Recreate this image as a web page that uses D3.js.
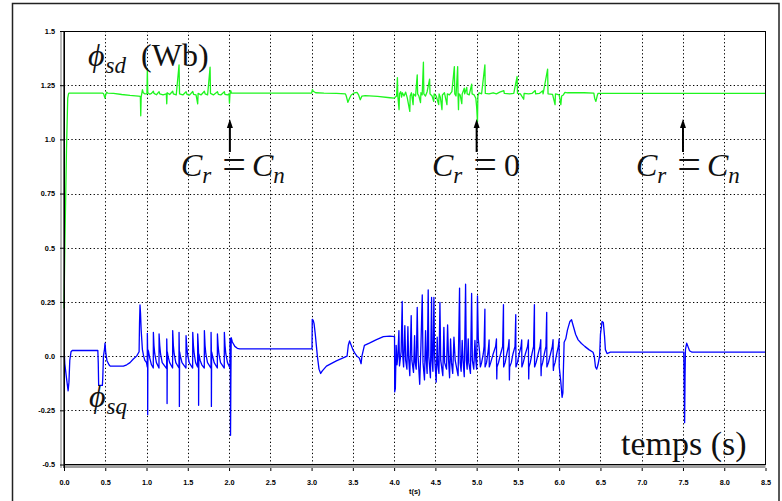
<!DOCTYPE html>
<html><head><meta charset="utf-8">
<script src="https://cdn.jsdelivr.net/npm/d3@7"></script>
<style>html,body{margin:0;padding:0;background:#fff;} svg{display:block;}</style>
</head><body>
<svg id="c" width="782" height="501"></svg>
<script>
// ---------- tick labels ----------
const xTicks = [0,0.5,1,1.5,2,2.5,3,3.5,4,4.5,5,5.5,6,6.5,7,7.5,8,8.5];
const yTicks = [-0.5,-0.25,0,0.25,0.5,0.75,1.0,1.25,1.5];
const yTickLabels = ["-0.5","-0.25","0.0","0.25","0.5","0.75","1.0","1.25","1.5"];
const xLabel = "t(s)";

// ---------- phi_sd (green) [t, Wb] ----------
const sdStart = [[0,0.22],[0.01,0.5],[0.03,0.95],[0.045,1.19],[0.055,1.21],[0.06,1.213],[0.47,1.213],[0.48,1.21],[0.497,1.19],[0.505,1.205],[0.517,1.218],[0.53,1.213],[0.6,1.212],[0.7,1.207],[0.8,1.203],[0.9,1.2],[0.925,1.198],[0.93,1.109],[0.935,1.195],[0.95,1.229],[0.96,1.215],[0.98,1.21],[1.005,1.21],[1.01,1.324],[1.015,1.215]];
const sdLoad1 = [[1.04,1.208],[1.06,1.212],[1.083,1.222],[1.09,1.212],[1.12,1.206],[1.152,1.22],[1.16,1.21],[1.2,1.205],[1.24,1.21],[1.245,1.164],[1.25,1.215],[1.28,1.207],[1.317,1.222],[1.325,1.21],[1.36,1.205],[1.394,1.344],[1.4,1.21],[1.44,1.205],[1.479,1.22],[1.49,1.208],[1.52,1.204],[1.56,1.221],[1.57,1.208],[1.6,1.205],[1.62,1.164],[1.625,1.212],[1.66,1.205],[1.701,1.222],[1.71,1.21],[1.74,1.205],[1.77,1.333],[1.775,1.212],[1.81,1.205],[1.859,1.22],[1.87,1.208],[1.9,1.205],[1.943,1.22],[1.95,1.208],[1.98,1.205],[2.0,1.21],[2.005,1.167],[2.01,1.205],[2.02,1.225],[2.03,1.213]];
const sdMid = [[3.0,1.213],[3.01,1.23],[3.02,1.222],[3.05,1.215],[3.15,1.213],[3.3,1.212],[3.41,1.21],[3.42,1.2],[3.44,1.171],[3.46,1.19],[3.48,1.205],[3.52,1.215],[3.55,1.217],[3.57,1.205],[3.59,1.183],[3.61,1.2],[3.65,1.202],[3.8,1.198],[3.95,1.192],[4.0,1.19]];
const sdLoad2 = [[4.03,1.2],[4.04,1.285],[4.045,1.2],[4.06,1.137],[4.065,1.21],[4.08,1.22],[4.09,1.195],[4.1,1.215],[4.12,1.2],[4.14,1.218],[4.16,1.19],[4.19,1.129],[4.195,1.2],[4.21,1.215],[4.23,1.16],[4.235,1.21],[4.26,1.2],[4.28,1.298],[4.285,1.21],[4.3,1.2],[4.32,1.17],[4.325,1.215],[4.34,1.205],[4.355,1.356],[4.36,1.21],[4.38,1.2],[4.4,1.22],[4.43,1.278],[4.435,1.21],[4.46,1.2],[4.48,1.175],[4.485,1.21],[4.51,1.2],[4.54,1.16],[4.545,1.21],[4.56,1.195],[4.58,1.137],[4.585,1.205],[4.61,1.215],[4.64,1.16],[4.645,1.21],[4.67,1.205],[4.7,1.22],[4.73,1.336],[4.735,1.21],[4.75,1.2],[4.77,1.336],[4.775,1.2],[4.78,1.137],[4.785,1.21],[4.8,1.205],[4.82,1.165],[4.825,1.21],[4.85,1.236],[4.855,1.21],[4.88,1.24],[4.885,1.21],[4.91,1.205],[4.94,1.255],[4.945,1.21],[4.97,1.205],[4.99,1.19],[5.0,1.15],[5.01,1.08],[5.015,1.2],[5.03,1.215]];
const sdEnd = [[5.06,1.21],[5.1,1.344],[5.105,1.212],[5.15,1.21],[5.2,1.215],[5.24,1.21],[5.28,1.218],[5.33,1.225],[5.335,1.212],[5.4,1.21],[5.45,1.212],[5.49,1.29],[5.495,1.212],[5.53,1.21],[5.57,1.185],[5.575,1.212],[5.63,1.21],[5.67,1.212],[5.71,1.225],[5.715,1.21],[5.76,1.212],[5.8,1.224],[5.805,1.21],[5.86,1.324],[5.865,1.21],[5.92,1.208],[5.95,1.16],[5.955,1.21],[6.0,1.205],[6.02,1.16],[6.03,1.2],[6.05,1.205],[6.07,1.217],[6.1,1.215],[6.3,1.215],[6.42,1.213],[6.43,1.19],[6.445,1.175],[6.46,1.2],[6.47,1.212],[8.5,1.212]];

// ---------- phi_sq (blue) [t, Wb] ----------
const sqStart = [[0,0.0],[0.005,0.0],[0.01,-0.035],[0.03,-0.1],[0.05,-0.16],[0.06,-0.12],[0.07,-0.02],[0.085,0.02],[0.1,0.026],[0.41,0.026],[0.415,-0.03],[0.42,-0.135],[0.465,-0.135],[0.47,-0.1],[0.478,0.0],[0.49,0.03],[0.497,0.06],[0.505,0.02],[0.52,-0.02],[0.545,-0.04],[0.56,-0.046],[0.72,-0.046],[0.76,-0.04],[0.8,-0.03],[0.84,-0.013],[0.88,0.0],[0.91,0.02],[0.915,0.15],[0.921,0.236],[0.927,0.2],[0.935,0.12],[0.95,0.03],[0.965,0.0],[0.98,-0.02],[1.0,-0.03]];
const sqLoad1 = [[1.009,-0.05],[1.01,0.105],[1.013,0.04],[1.014,-0.27],[1.017,0.03],[1.025,0.02],[1.04,-0.01],[1.06,-0.04],[1.082,-0.055],[1.083,0.11],[1.09,0.05],[1.1,0.01],[1.12,-0.03],[1.151,-0.055],[1.152,0.102],[1.16,0.05],[1.17,0.01],[1.19,-0.03],[1.244,-0.058],[1.245,0.079],[1.248,0.03],[1.249,-0.219],[1.252,0.02],[1.26,0.0],[1.28,-0.03],[1.316,-0.055],[1.317,0.118],[1.325,0.05],[1.335,0.01],[1.355,-0.03],[1.393,-0.055],[1.394,0.11],[1.397,0.04],[1.398,-0.232],[1.401,0.02],[1.41,0.0],[1.43,-0.03],[1.478,-0.055],[1.479,0.095],[1.487,0.045],[1.497,0.01],[1.517,-0.03],[1.559,-0.055],[1.56,0.11],[1.568,0.05],[1.578,0.01],[1.595,-0.03],[1.619,-0.05],[1.62,0.102],[1.627,0.05],[1.63,0.02],[1.631,-0.227],[1.634,0.01],[1.65,-0.02],[1.67,-0.04],[1.7,-0.055],[1.701,0.118],[1.709,0.05],[1.719,0.01],[1.739,-0.03],[1.781,-0.055],[1.782,0.11],[1.785,0.04],[1.786,-0.232],[1.789,0.02],[1.8,0.0],[1.82,-0.03],[1.858,-0.055],[1.859,0.102],[1.867,0.05],[1.877,0.01],[1.897,-0.03],[1.942,-0.055],[1.943,0.11],[1.951,0.05],[1.961,0.01],[1.981,-0.03],[2.011,-0.055],[2.012,0.082],[2.016,0.03],[2.018,-0.365],[2.022,-0.1],[2.026,0.085],[2.04,0.065],[2.07,0.045],[2.1,0.036],[2.13,0.033]];
const sqNoLoad = [[3.005,0.033],[3.008,0.17],[3.02,0.165],[3.03,0.15],[3.045,0.1],[3.07,0.0],[3.09,-0.06],[3.11,-0.08],[3.13,-0.068],[3.18,-0.046],[3.3,-0.022],[3.43,0.0],[3.445,0.05],[3.46,0.07],[3.48,0.05],[3.5,0.03],[3.53,0.01],[3.55,0.0],[3.58,-0.01],[3.6,-0.035],[3.61,0.0],[3.64,0.05],[3.7,0.06],[3.78,0.075],[3.87,0.09],[3.95,0.092],[4.005,0.09]];
const sqLoad2 = [[4.007,-0.165],[4.015,-0.15],[4.025,0.05],[4.035,-0.04],[4.045,0.0],[4.058,0.118],[4.065,-0.045],[4.085,0.02],[4.098,0.252],[4.105,0.0],[4.115,-0.05],[4.13,0.141],[4.14,-0.02],[4.155,-0.06],[4.167,0.136],[4.175,0.0],[4.19,-0.09],[4.207,0.187],[4.215,-0.02],[4.235,-0.075],[4.248,0.095],[4.255,-0.03],[4.268,-0.06],[4.28,0.225],[4.29,0.0],[4.31,-0.13],[4.325,0.05],[4.341,0.282],[4.35,-0.03],[4.368,-0.11],[4.381,0.118],[4.39,-0.02],[4.4,-0.08],[4.413,0.306],[4.42,0.0],[4.44,-0.1],[4.454,0.271],[4.46,-0.02],[4.47,-0.07],[4.482,0.271],[4.49,0.0],[4.51,-0.12],[4.522,0.087],[4.53,-0.04],[4.543,-0.08],[4.555,0.248],[4.565,-0.02],[4.59,-0.09],[4.603,0.133],[4.612,-0.03],[4.635,-0.06],[4.648,0.144],[4.66,-0.02],[4.672,-0.1],[4.684,0.079],[4.695,-0.03],[4.71,-0.08],[4.725,0.087],[4.74,-0.02],[4.775,-0.09],[4.793,0.314],[4.8,-0.03],[4.812,-0.07],[4.825,0.072],[4.835,-0.02],[4.85,-0.095],[4.866,0.332],[4.875,-0.02],[4.885,-0.06],[4.898,0.08],[4.905,-0.03],[4.925,-0.08],[4.939,0.289],[4.948,-0.02],[4.965,-0.06],[4.979,0.072],[4.99,-0.02],[5.0,-0.06],[5.01,0.278],[5.02,0.08],[5.035,0.02]];
const sqLoad3 = [[5.045,-0.05],[5.06,-0.03],[5.08,0.01],[5.09,0.045],[5.1,0.217],[5.102,-0.05],[5.12,-0.03],[5.135,0.01],[5.145,0.045],[5.151,0.075],[5.153,-0.05],[5.17,-0.03],[5.2,0.01],[5.23,0.045],[5.24,0.079],[5.242,-0.05],[5.244,-0.105],[5.247,-0.05],[5.265,-0.03],[5.29,0.01],[5.315,0.045],[5.325,0.237],[5.327,-0.05],[5.345,-0.03],[5.365,0.01],[5.385,0.045],[5.393,0.076],[5.395,-0.05],[5.397,-0.11],[5.4,-0.05],[5.42,-0.03],[5.44,0.01],[5.465,0.045],[5.474,0.191],[5.476,-0.05],[5.495,-0.03],[5.515,0.01],[5.538,0.045],[5.546,0.075],[5.548,-0.05],[5.565,-0.03],[5.59,0.01],[5.617,0.045],[5.627,0.075],[5.629,-0.05],[5.631,-0.105],[5.634,-0.05],[5.65,-0.03],[5.67,0.01],[5.69,0.045],[5.7,0.237],[5.702,-0.05],[5.72,-0.03],[5.745,0.01],[5.768,0.045],[5.777,0.076],[5.779,-0.05],[5.781,-0.09],[5.784,-0.05],[5.8,-0.03],[5.82,0.01],[5.84,0.045],[5.849,0.202],[5.851,-0.05],[5.87,-0.03],[5.895,0.01],[5.917,0.045],[5.926,0.076],[5.928,-0.05],[5.93,-0.066],[5.933,-0.05],[5.95,-0.03],[5.97,0.01],[5.99,0.045],[5.999,0.079],[6.001,-0.05]];
const sqEnd = [[6.02,-0.12],[6.035,-0.19],[6.045,-0.17],[6.05,-0.08],[6.06,0.064],[6.08,0.08],[6.1,0.12],[6.13,0.16],[6.15,0.168],[6.17,0.14],[6.2,0.1],[6.23,0.075],[6.27,0.058],[6.31,0.045],[6.36,0.03],[6.41,0.018],[6.425,0.0],[6.44,-0.05],[6.455,-0.06],[6.47,-0.04],[6.49,0.0],[6.5,0.1],[6.52,0.16],[6.535,0.155],[6.55,0.09],[6.56,0.03],[6.58,0.012],[6.62,0.018],[7.51,0.018],[7.512,-0.05],[7.52,-0.307],[7.525,-0.1],[7.53,0.03],[7.545,0.06],[7.56,0.045],[7.58,0.025],[7.61,0.018],[8.5,0.018]];

// ---------- annotations ----------
const arrowTimes = [2.01, 5.0, 7.5];

const phiSd = [].concat(sdStart, sdLoad1, sdMid, sdLoad2, sdEnd);
const phiSq = [].concat(sqStart, sqLoad1, sqNoLoad, sqLoad2, sqLoad3, sqEnd);

const svg = d3.select("#c");
const x = d3.scaleLinear().domain([0, 8.5]).range([64, 765.5]);
const y = d3.scaleLinear().domain([-0.5, 1.5]).range([464.5, 31]);

// outer frame
svg.append("rect").attr("x",12.5).attr("y",3.5).attr("width",766.5).attr("height",520)
  .attr("fill","none").attr("stroke","#222").attr("stroke-width",1.5);

// grid
const grid = svg.append("g");
grid.selectAll("line.v").data(xTicks.filter(d=>d>0 && d<8.5)).enter().append("line")
  .attr("x1",d=>Math.round(x(d))+0.5).attr("x2",d=>Math.round(x(d))+0.5)
  .attr("y1",y(1.5)).attr("y2",y(-0.5))
  .attr("stroke","#000").attr("stroke-width",1).attr("stroke-dasharray","1.3,2.4");
grid.selectAll("line.h").data(yTicks.filter(d=>d>-0.5 && d<1.5)).enter().append("line")
  .attr("y1",d=>Math.round(y(d))+0.5).attr("y2",d=>Math.round(y(d))+0.5)
  .attr("x1",x(0)).attr("x2",x(8.5))
  .attr("stroke","#000").attr("stroke-width",1).attr("stroke-dasharray","1.3,2.4");

// lines
const line = d3.line().x(d=>x(d[0])).y(d=>y(d[1]));
svg.append("path").datum(phiSq).attr("d",line).attr("fill","none")
  .attr("stroke","#0000ff").attr("stroke-width",1.3).attr("stroke-linejoin","round");
svg.append("path").datum(phiSd).attr("d",line).attr("fill","none")
  .attr("stroke","#1ef51e").attr("stroke-width",1.3).attr("stroke-linejoin","round");

// plot frame
svg.append("line").attr("x1",x(0)).attr("x2",x(8.5)).attr("y1",31.5).attr("y2",31.5).attr("stroke","#000");
svg.append("line").attr("x1",x(8.5)).attr("x2",x(8.5)).attr("y1",31).attr("y2",465).attr("stroke","#000");
svg.append("rect").attr("x",x(0)).attr("y",465).attr("width",x(8.5)-x(0)).attr("height",3).attr("fill","#a0a0a0");
svg.append("line").attr("x1",x(0)).attr("x2",x(8.5)).attr("y1",464.5).attr("y2",464.5).attr("stroke","#000");
svg.append("line").attr("x1",61).attr("x2",61).attr("y1",31).attr("y2",468).attr("stroke","#777").attr("stroke-width",1);
svg.append("line").attr("x1",64.2).attr("x2",64.2).attr("y1",31).attr("y2",468).attr("stroke","#000").attr("stroke-width",1.6);

// axes
const fontAx = "'Liberation Sans', Arial, sans-serif";
const ax = svg.append("g").attr("transform","translate(64,0)")
  .call(d3.axisLeft(y).tickValues(yTicks).tickSize(4).tickPadding(5)
    .tickFormat((d,i)=>yTickLabels[i]));
const bx = svg.append("g").attr("transform","translate(0,468)")
  .call(d3.axisBottom(x).tickValues(xTicks).tickSize(3).tickPadding(9)
    .tickFormat(d3.format(".1f")));
[ax,bx].forEach(g=>{
  g.select(".domain").remove();
  g.selectAll("text").attr("font-family",fontAx).attr("font-weight","bold").attr("font-size",7.3).attr("fill","#000");
  g.selectAll("line").attr("stroke","#000");
});
svg.append("text").attr("x",x(4.25)).attr("y",494).attr("text-anchor","middle")
  .attr("font-family",fontAx).attr("font-weight","bold").attr("font-size",7.3).text(xLabel);

// annotations with subscripts
const serif = "'Liberation Serif','DejaVu Serif',serif";
function mathText(px, py, parts, size){
  const t = svg.append("text").attr("x",px).attr("y",py)
    .attr("font-family",serif).attr("font-size",size).attr("fill","#111");
  let shift = 0;
  parts.forEach(p=>{
    const ts = t.append("tspan").text(p.s);
    const target = p.sub ? size*0.22 : (p.sh || 0);
    ts.attr("dy", target - shift); shift = target;
    if (p.dx) ts.attr("dx", p.dx);
    ts.attr("font-size", p.sub ? size*0.72 : (p.sz || size));
    if (p.it) ts.attr("font-style","italic");
  });
  return t;
}
mathText(88, 66, [{s:"\u03D5",it:1},{s:"sd",it:1,sub:1,dx:1},{s:"(Wb)",dx:15}], 32);
mathText(89, 407, [{s:"\u03D5",it:1},{s:"sq",it:1,sub:1,dx:1}], 32);
mathText(181, 176, [{s:"C",it:1},{s:"r",it:1,sub:1},{s:"=",dx:11,sz:42,sh:2},{s:"C",it:1,dx:6},{s:"n",it:1,sub:1}], 32);
mathText(432, 176, [{s:"C",it:1},{s:"r",it:1,sub:1},{s:"=",dx:11,sz:42,sh:2},{s:"0",dx:7}], 32);
mathText(636, 176, [{s:"C",it:1},{s:"r",it:1,sub:1},{s:"=",dx:11,sz:42,sh:2},{s:"C",it:1,dx:6},{s:"n",it:1,sub:1}], 32);
svg.append("text").attr("x",621).attr("y",455).attr("font-family",serif).attr("font-size",34)
  .attr("fill","#111").text("temps (s)");

// arrows
arrowTimes.forEach(t=>{
  const ax0 = x(t);
  svg.append("line").attr("x1",ax0).attr("x2",ax0).attr("y1",152).attr("y2",126)
    .attr("stroke","#000").attr("stroke-width",2);
  svg.append("path").attr("d",`M${ax0},119 L${ax0-3},128 L${ax0+3},128 Z`).attr("fill","#000");
});
</script>
</body></html>
